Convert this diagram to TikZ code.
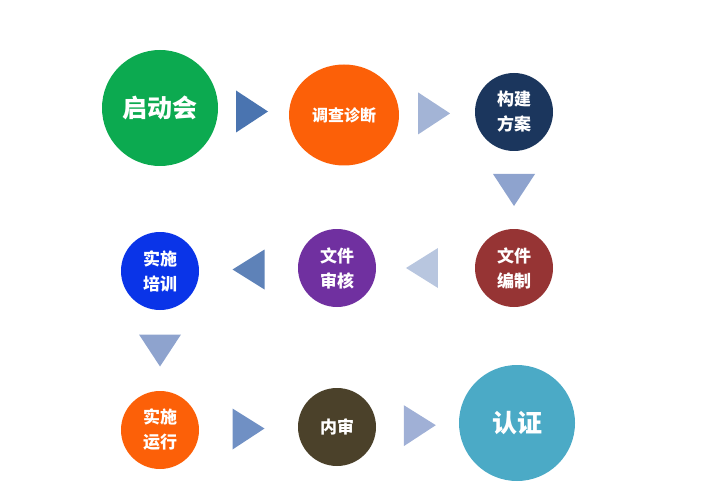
\documentclass[tikz,border=0pt]{standalone}
\usepackage{fontspec}
\newfontfamily\cjk{Noto Sans CJK SC}
\usepackage{tikz}
\usetikzlibrary{calc,shapes,positioning}

\definecolor{cgreen}{RGB}{12,170,80}
\definecolor{corange}{RGB}{252,96,8}
\definecolor{cnavy}{RGB}{27,54,93}
\definecolor{cred}{RGB}{150,52,52}
\definecolor{cpurple}{RGB}{112,48,160}
\definecolor{cblue}{RGB}{10,52,232}
\definecolor{colive}{RGB}{75,65,42}
\definecolor{cteal}{RGB}{75,170,198}
\definecolor{tri1}{RGB}{74,116,176}
\definecolor{tri2}{RGB}{163,180,214}
\definecolor{tri3}{RGB}{142,163,206}
\definecolor{tri4}{RGB}{94,130,184}
\definecolor{tri5}{RGB}{184,198,223}
\definecolor{tri6}{RGB}{112,144,196}
\definecolor{tri7}{RGB}{160,176,214}

\begin{document}
\begin{tikzpicture}[x=1pt,y=-1pt]
        
        \tikzstyle{every node}=[text=white, font=\cjk\bfseries\fontsize{17}{25}\selectfont, align=center, inner sep=0pt]
        \tikzstyle{small}=[circle, minimum size=78pt]
        \tikzstyle{big}=[circle, minimum size=116pt, font=\cjk\bfseries\fontsize{25}{28}\selectfont]
        \useasboundingbox (0,0) rectangle (708,494);
        
        \node[big,fill=cgreen] (kick) at (160,108) {启动会};
        \node[ellipse,minimum width=110pt,minimum height=101pt,fill=corange,font=\cjk\bfseries\fontsize{16}{25}\selectfont] (survey) at (344,115) {调查诊断};
        \node[small,fill=cnavy] (plan) at (514,112) {构建\\方案};
        \node[small,fill=cred] (write) at (514,268) {文件\\编制};
        \node[small,fill=cpurple] (review) at (337,268) {文件\\审核};
        \node[small,fill=cblue] (train) at (160,271) {实施\\培训};
        \node[small,fill=corange] (run) at (160,430) {实施\\运行};
        \node[small,fill=colive] (audit) at (337,427) {内审};
        \node[big,fill=cteal] (cert) at (517,423) {认证};
        
        % arrows between the steps
        \fill[tri1] ($(kick)!.5!(survey)$) +(-16,-21) -- +(16,0) -- +(-16,21) -- cycle;
        \fill[tri2] ($(survey)!.53!(plan)$) +(-16,-21) -- +(16,0) -- +(-16,21) -- cycle;
        \fill[tri3] ($(plan)!.5!(write)$) +(-21,-16) -- +(0,16) -- +(21,-16) -- cycle;
        \fill[tri5] ($(write)!.52!(review)$) +(16,-20) -- +(-16,0) -- +(16,20) -- cycle;
        \fill[tri4] ($(review)!.5!(train)$) +(16,-20) -- +(-16,0) -- +(16,20) -- cycle;
        \fill[tri3] ($(train)!.5!(run)$) +(-21,-16) -- +(0,16) -- +(21,-16) -- cycle;
        \fill[tri6] ($(run)!.5!(audit)$) +(-16,-20) -- +(16,0) -- +(-16,21) -- cycle;
        \fill[tri7] ($(audit)!.46!(cert)$) +(-16,-20) -- +(16,0) -- +(-16,21) -- cycle;
      \end{tikzpicture}
\end{document}
